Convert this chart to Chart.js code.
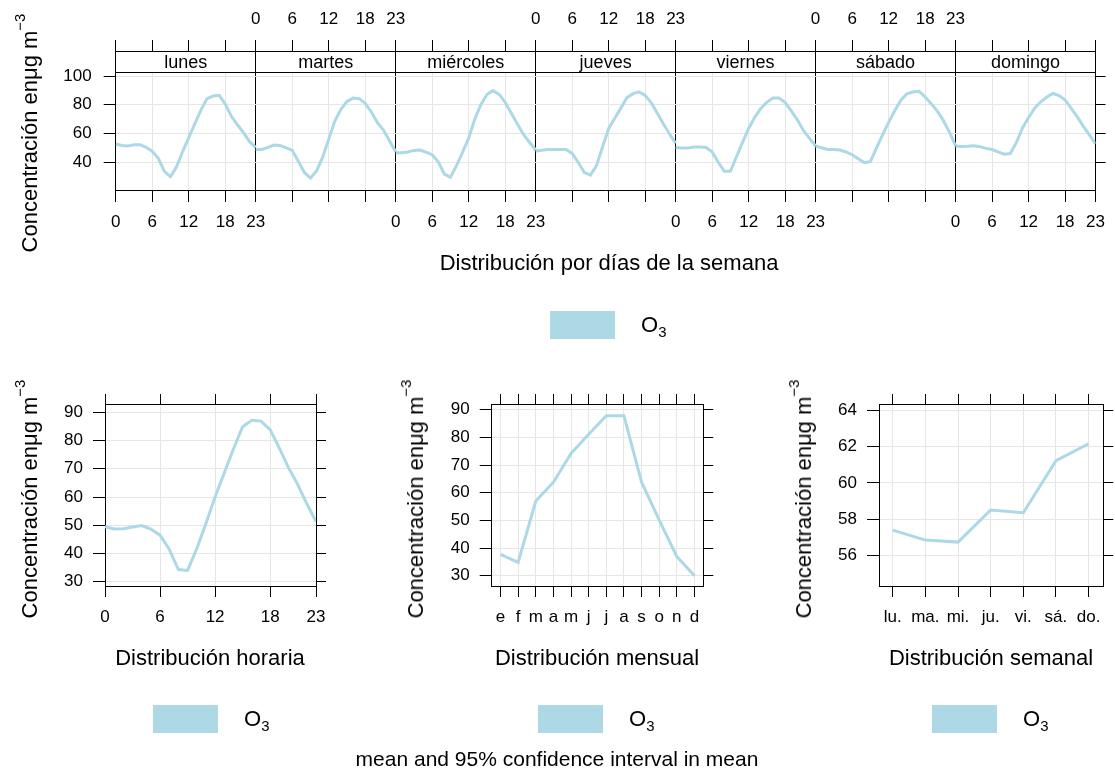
<!DOCTYPE html>
<html><head><meta charset="utf-8">
<script src="https://cdn.jsdelivr.net/npm/chart.js@4.4.1/dist/chart.umd.min.js"></script>
<style>
html,body{margin:0;padding:0;background:#fff}
#wrap{position:relative;width:1115px;height:773px;overflow:hidden;font-family:"Liberation Sans",Arial,sans-serif;color:#000}
canvas{position:absolute;left:0;top:0}
.t{position:absolute;white-space:nowrap;transform:translate(-50%,-50%);line-height:1}
.xt{font-size:22px}
.yt{position:absolute;white-space:nowrap;transform:translate(-50%,-50%) rotate(-90deg);font-size:22px;line-height:1}
.yt sup{font-size:0.68em;vertical-align:0.8em;line-height:0}
.lg{position:absolute;background:#ADD8E6;width:65px;height:28px}
.lt{position:absolute;font-size:22px;line-height:1;transform:translateY(-50%);white-space:nowrap}
.lt sub{font-size:0.68em;vertical-align:-0.35em;line-height:0}
</style>
</head><body>
<div id="wrap">
<canvas id="cTop" width="1115" height="773"></canvas>
<canvas id="cHour" width="1115" height="773"></canvas>
<canvas id="cMonth" width="1115" height="773"></canvas>
<canvas id="cWeek" width="1115" height="773"></canvas>

<div class="yt" style="left:30px;top:133px">Concentración enμg m<sup>−3</sup></div>
<div class="yt" style="left:30px;top:499px">Concentración enμg m<sup>−3</sup></div>
<div class="yt" style="left:416px;top:499px">Concentración enμg m<sup>−3</sup></div>
<div class="yt" style="left:804px;top:499px">Concentración enμg m<sup>−3</sup></div>

<div class="t xt" style="left:609px;top:263px">Distribución por días de la semana</div>
<div class="t xt" style="left:210px;top:658px">Distribución horaria</div>
<div class="t xt" style="left:597px;top:658px">Distribución mensual</div>
<div class="t xt" style="left:991px;top:658px">Distribución semanal</div>

<div class="lg" style="left:550px;top:311px"></div><div class="lt" style="left:641px;top:325px">O<sub>3</sub></div>
<div class="lg" style="left:153px;top:705px"></div><div class="lt" style="left:244px;top:719px">O<sub>3</sub></div>
<div class="lg" style="left:538px;top:705px"></div><div class="lt" style="left:629px;top:719px">O<sub>3</sub></div>
<div class="lg" style="left:932px;top:705px"></div><div class="lt" style="left:1023px;top:719px">O<sub>3</sub></div>

<div class="t" style="left:557px;top:758px;font-size:21px">mean and 95% confidence interval in mean</div>
</div>
<script>
// ---------------- data ----------------
const hourTicks = [0, 6, 12, 18, 23];
const dayNames = ['lunes', 'martes', 'miércoles', 'jueves', 'viernes', 'sábado', 'domingo'];
const o3Lunes     = [52.6, 51.5, 51.2, 52.1, 52.1, 50.3, 47.5, 42.6, 33.5, 29.7, 36.7, 47.3, 57.0, 66.7, 76.2, 84.2, 86.0, 86.5, 80.4, 72.0, 66.0, 60.5, 54.2, 50.2];
const o3Martes    = [48.8, 48.8, 50.2, 51.8, 51.5, 49.8, 48.2, 40.6, 32.7, 28.8, 33.7, 43.2, 55.9, 68.6, 76.7, 82.2, 84.6, 84.2, 80.9, 74.9, 67.5, 62.3, 54.7, 47.2];
const o3Miercoles = [46.5, 46.5, 47.0, 48.1, 48.4, 46.9, 45.1, 40.2, 31.5, 29.4, 37.5, 46.8, 56.7, 69.8, 80.0, 87.1, 89.8, 87.2, 81.6, 74.0, 66.6, 59.2, 53.8, 48.4];
const o3Jueves    = [47.7, 48.2, 48.8, 48.8, 48.8, 48.8, 46.0, 39.8, 32.7, 30.9, 37.5, 50.7, 63.4, 70.6, 77.6, 84.9, 87.7, 88.9, 86.5, 81.3, 74.0, 66.5, 59.5, 53.0];
const o3Viernes   = [50.2, 49.8, 49.7, 50.4, 50.5, 50.1, 47.2, 39.8, 33.6, 33.5, 43.7, 53.7, 63.4, 71.2, 77.4, 81.7, 84.6, 84.6, 81.4, 75.7, 69.4, 62.0, 56.5, 51.2];
const o3Sabado    = [51.2, 49.9, 48.8, 48.8, 48.4, 47.0, 45.1, 42.2, 39.6, 40.2, 49.7, 59.0, 67.6, 75.8, 83.1, 87.5, 88.8, 89.3, 85.4, 80.7, 75.5, 69.0, 60.8, 51.2];
const o3Domingo   = [51.2, 50.8, 51.0, 51.3, 50.7, 49.5, 48.7, 47.0, 45.4, 45.9, 53.7, 63.8, 71.1, 77.6, 82.0, 85.3, 87.8, 86.4, 83.3, 77.4, 71.5, 64.9, 58.9, 52.6];
const dayHourly = [o3Lunes, o3Martes, o3Miercoles, o3Jueves, o3Viernes, o3Sabado, o3Domingo];

const hourlyMean = [49.5, 48.7, 48.8, 49.4, 49.9, 48.6, 46.5, 41.5, 34.3, 34.0, 41.7, 50.6, 60.1, 68.5, 77.0, 84.9, 87.2, 86.9, 83.9, 77.3, 70.4, 64.5, 57.6, 51.3];

const monthLabels = ['e', 'f', 'm', 'a', 'm', 'j', 'j', 'a', 's', 'o', 'n', 'd'];
const monthlyMean = [37.7, 34.8, 57.0, 63.8, 74.2, 81.1, 87.8, 87.8, 63.8, 50.1, 36.9, 30.0];

const weekLabels = ['lu.', 'ma.', 'mi.', 'ju.', 'vi.', 'sá.', 'do.'];
const weeklyMean = [57.41, 56.86, 56.75, 58.51, 58.36, 61.22, 62.15];

const topYTicks = [40, 60, 80, 100];
const hourYTicks = [30, 40, 50, 60, 70, 80, 90];
const monthYTicks = [30, 40, 50, 60, 70, 80, 90];
const weekYTicks = [56, 58, 60, 62, 64];

// ---------------- styling / layout ----------------
const W = 1115, H = 773;
const LINE = '#ADD8E6', GRID = '#e6e6e6', AX = '#000';
Chart.defaults.font.family = '"Liberation Sans", Arial, sans-serif';
Chart.defaults.font.size = 17;
Chart.defaults.color = '#000';

const setTicks = vals => s => { s.ticks = vals.map(v => ({ value: v })); };
const lineDs = pts => ({ data: pts, borderColor: LINE, backgroundColor: LINE, borderWidth: 3,
  pointRadius: 0, tension: 0, fill: false });
const commonOpts = { responsive: false, animation: false, devicePixelRatio: 1,
  plugins: { legend: { display: false }, tooltip: { enabled: false } } };

// ---------------- top chart (by weekday & hour) ----------------
const HPD = 23; // span of one panel on the x scale
const nDays = dayNames.length;
const topTickVals = [];
for (let d = 0; d < nDays; d++) hourTicks.filter(h => h < HPD).forEach(h => topTickVals.push(d * HPD + h));
topTickVals.push(nDays * HPD);

function dayLabel(v, days) {
  const d = Math.floor(v / HPD), h = v - d * HPD;
  if (h !== 0) return days.includes(d) ? String(h) : '';
  if (d < nDays && days.includes(d)) return '0';
  if (days.includes(d - 1)) return '23';
  return '';
}

const TOP = { l: 115.7, t: 51, r: 1103.3, b: 190 };
const TOP_Y = { min: 20.47, max: 117.45, dataMax: 102.58 };
const tWL = 60, tHT = 45, tHB = 45, tWR = 11;

const stripPlugin = {
  id: 'strip',
  afterDatasetsDraw(chart) {
    const { ctx, chartArea: { left, right, top } } = chart;
    const xs = chart.scales.x, ys = chart.scales.y;
    const al = p => Math.round(p - 0.5) + 0.5;
    const sb = al(ys.getPixelForValue(TOP_Y.dataMax));
    const st = al(top);
    ctx.save();
    ctx.fillStyle = '#fff';
    ctx.fillRect(left, st, right - left, sb - st);
    ctx.strokeStyle = AX; ctx.lineWidth = 1;
    ctx.beginPath();
    ctx.moveTo(left, st); ctx.lineTo(right, st);
    ctx.moveTo(left, sb); ctx.lineTo(right, sb);
    for (let d = 0; d <= nDays; d++) {
      const px = al(xs.getPixelForValue(d * HPD));
      ctx.moveTo(px, st); ctx.lineTo(px, sb);
    }
    ctx.stroke();
    ctx.fillStyle = '#000';
    ctx.font = '18px "Liberation Sans", Arial, sans-serif';
    ctx.textAlign = 'center'; ctx.textBaseline = 'middle';
    dayNames.forEach((n, d) => {
      ctx.fillText(n, xs.getPixelForValue(d * HPD + HPD / 2), (st + sb) / 2 + 1);
    });
    ctx.restore();
  }
};

new Chart(document.getElementById('cTop'), {
  type: 'line',
  data: { datasets: dayHourly.map((vals, d) => lineDs(vals.map((v, h) => ({ x: d * HPD + h, y: v })))) },
  plugins: [stripPlugin],
  options: Object.assign({}, commonOpts, {
    layout: { autoPadding: false, padding: { left: TOP.l - tWL, top: TOP.t - tHT, right: W - TOP.r - tWR, bottom: H - TOP.b - tHB } },
    scales: {
      x: { type: 'linear', position: 'bottom', min: 0, max: nDays * HPD,
        afterBuildTicks: setTicks(topTickVals), afterFit: s => { s.height = tHB; },
        grid: { color: c => (c.tick && c.tick.value % HPD === 0) ? AX : GRID, tickColor: AX, tickLength: 12 },
        border: { color: AX, width: 1 },
        ticks: { autoSkip: false, maxRotation: 0, minRotation: 0, padding: 10, callback: v => dayLabel(v, [0, 2, 4, 6]) } },
      x2: { type: 'linear', position: 'top', min: 0, max: nDays * HPD,
        afterBuildTicks: setTicks(topTickVals), afterFit: s => { s.height = tHT; },
        grid: { drawOnChartArea: false, tickColor: AX, tickLength: 11 },
        border: { color: AX, width: 1 },
        ticks: { autoSkip: false, maxRotation: 0, minRotation: 0, padding: 10, callback: v => dayLabel(v, [1, 3, 5]) } },
      y: { type: 'linear', position: 'left', min: TOP_Y.min, max: TOP_Y.max,
        afterBuildTicks: setTicks(topYTicks), afterFit: s => { s.width = tWL; },
        grid: { color: GRID, tickColor: AX, tickLength: 12 }, border: { color: AX, width: 1 },
        ticks: { padding: 12 } },
      y2: { type: 'linear', position: 'right', min: TOP_Y.min, max: TOP_Y.max,
        afterBuildTicks: setTicks(topYTicks), afterFit: s => { s.width = tWR; },
        grid: { drawOnChartArea: false, tickColor: AX, tickLength: 10 }, border: { color: AX, width: 1 },
        ticks: { display: false } }
    }
  })
});

// ---------------- bottom panels ----------------
function panelChart(id, area, xCfg, yCfg, pts) {
  const WL = 60, HT = 12, HB = 45, WR = 12;
  return new Chart(document.getElementById(id), {
    type: 'line',
    data: { datasets: [lineDs(pts)] },
    options: Object.assign({}, commonOpts, {
      layout: { autoPadding: false, padding: { left: area.l - WL, top: area.t - HT, right: W - area.r - WR, bottom: H - area.b - HB } },
      scales: {
        x: { type: 'linear', position: 'bottom', min: xCfg.min, max: xCfg.max,
          afterBuildTicks: setTicks(xCfg.ticks), afterFit: s => { s.height = HB; },
          grid: { color: GRID, tickColor: AX, tickLength: 11 }, border: { color: AX, width: 1 },
          ticks: { autoSkip: false, maxRotation: 0, minRotation: 0, padding: 10, callback: xCfg.label } },
        x2: { type: 'linear', position: 'top', min: xCfg.min, max: xCfg.max,
          afterBuildTicks: setTicks(xCfg.ticks), afterFit: s => { s.height = HT; },
          grid: { drawOnChartArea: false, tickColor: AX, tickLength: 10 }, border: { color: AX, width: 1 },
          ticks: { display: false } },
        y: { type: 'linear', position: 'left', min: yCfg.min, max: yCfg.max,
          afterBuildTicks: setTicks(yCfg.ticks), afterFit: s => { s.width = WL; },
          grid: { color: GRID, tickColor: AX, tickLength: 12 }, border: { color: AX, width: 1 },
          ticks: { padding: 10 } },
        y2: { type: 'linear', position: 'right', min: yCfg.min, max: yCfg.max,
          afterBuildTicks: setTicks(yCfg.ticks), afterFit: s => { s.width = WR; },
          grid: { drawOnChartArea: false, tickColor: AX, tickLength: 10 }, border: { color: AX, width: 1 },
          ticks: { display: false } }
      }
    })
  });
}

panelChart('cHour', { l: 105, t: 404, r: 316, b: 586 },
  { min: 0, max: 23, ticks: hourTicks, label: v => String(v) },
  { min: 28.48, max: 92.95, ticks: hourYTicks },
  hourlyMean.map((v, h) => ({ x: h, y: v })));

panelChart('cMonth', { l: 491.7, t: 404, r: 703.3, b: 586 },
  { min: 0.5, max: 12.5, ticks: monthLabels.map((_, i) => i + 1), label: v => monthLabels[v - 1] },
  { min: 26.28, max: 92.06, ticks: monthYTicks },
  monthlyMean.map((v, i) => ({ x: i + 1, y: v })));

panelChart('cWeek', { l: 879, t: 404, r: 1103.3, b: 586 },
  { min: 0.58, max: 7.45, ticks: weekLabels.map((_, i) => i + 1), label: v => weekLabels[v - 1] },
  { min: 54.34, max: 64.33, ticks: weekYTicks },
  weeklyMean.map((v, i) => ({ x: i + 1, y: v })));
</script>
</body></html>
